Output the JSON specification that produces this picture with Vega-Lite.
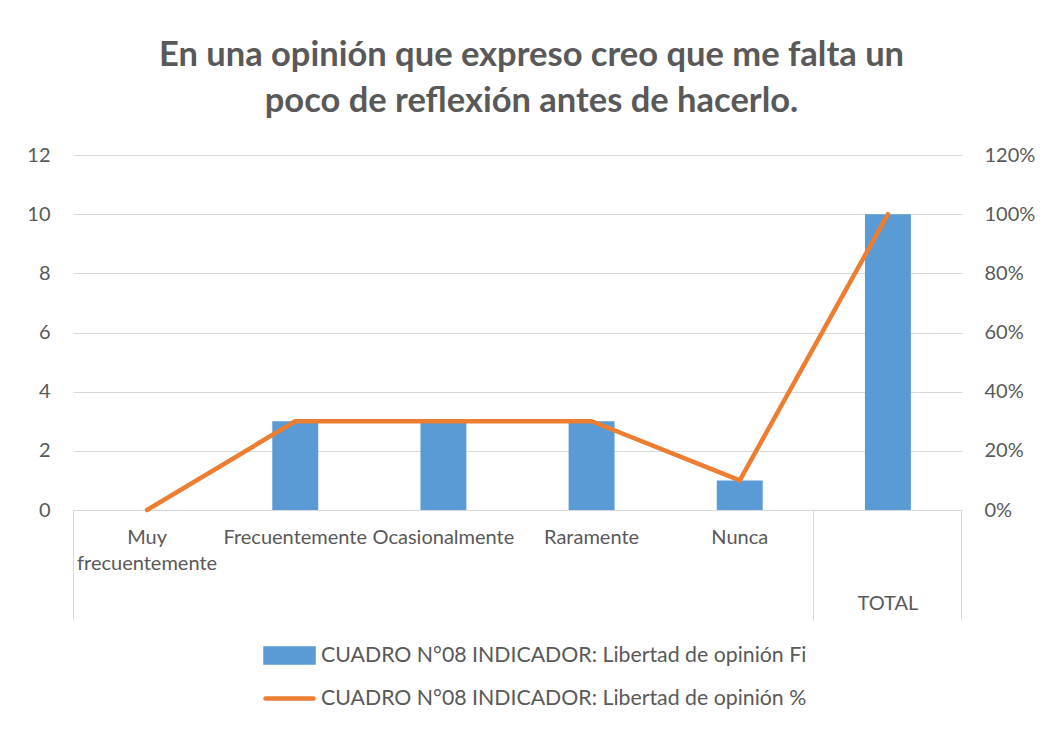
{
  "$schema": "https://vega.github.io/schema/vega-lite/v6.json",
  "width": 889,
  "height": 355,
  "autosize": {"type": "none"},
  "padding": {"left": 73, "top": 155, "right": 91, "bottom": 219},
  "background": "white",
  "config": {"font": "Lato", "view": {"stroke": null}},
  "title": {
    "text": ["En una opinión que expreso creo que me falta un", "poco de reflexión antes de hacerlo."],
    "fontSize": 34.5,
    "fontWeight": "bold",
    "color": "#595959",
    "anchor": "middle",
    "dx": 14,
    "offset": 26,
    "lineHeight": 46,
    "font": "Lato"
  },
  "data": {
    "values": [
      {"cat": "Muy frecuentemente", "fi": 0, "pct": 0},
      {"cat": "Frecuentemente", "fi": 3, "pct": 0.3},
      {"cat": "Ocasionalmente", "fi": 3, "pct": 0.3},
      {"cat": "Raramente", "fi": 3, "pct": 0.3},
      {"cat": "Nunca", "fi": 1, "pct": 0.1},
      {"cat": "TOTAL", "fi": 10, "pct": 1}
    ]
  },
  "encoding": {
    "x": {
      "field": "cat",
      "type": "nominal",
      "sort": null,
      "scale": {"paddingInner": 0, "paddingOuter": 0},
      "axis": {
        "title": null,
        "labelAngle": 0,
        "domainColor": "#D9D9D9",
        "domainWidth": 1,
        "bandPosition": 1,
        "tickExtra": true,
        "tickSize": 110,
        "tickColor": "#D9D9D9",
        "tickWidth": 1,
        "tickOpacity": {"condition": {"test": "datum.value === 'Nunca' || datum.value === 'TOTAL' || datum.extra", "value": 1}, "value": 0},
        "labelPadding": {"condition": {"test": "datum.value === 'TOTAL'", "value": -27}, "value": -93},
        "labelExpr": "datum.value === 'Muy frecuentemente' ? ['Muy', 'frecuentemente'] : datum.label",
        "labelFontSize": 20,
        "labelColor": "#595959",
        "labelLineHeight": 26,
        "labelLimit": 300,
        "labelOverlap": false,
        "labelBaseline": "top",
        "grid": false
      }
    }
  },
  "layer": [
    {
      "mark": {"type": "bar", "width": {"band": 0.31}},
      "encoding": {
        "y": {
          "field": "fi",
          "type": "quantitative",
          "scale": {"domain": [0, 12], "nice": false},
          "axis": {
            "orient": "left",
            "title": null,
            "values": [0, 2, 4, 6, 8, 10, 12],
            "grid": true,
            "gridColor": "#D9D9D9",
            "domain": false,
            "ticks": false,
            "labelPadding": 23,
            "labelFontSize": 20,
            "labelColor": "#595959"
          }
        },
        "color": {
          "datum": "CUADRO N°08 INDICADOR: Libertad de opinión Fi",
          "scale": {
            "domain": ["CUADRO N°08 INDICADOR: Libertad de opinión Fi", "CUADRO N°08 INDICADOR: Libertad de opinión %"],
            "range": ["#5B9BD5", "#ED7D31"]
          },
          "legend": {
            "orient": "none",
            "legendX": 190,
            "legendY": 474,
            "direction": "vertical",
            "title": null,
            "labelFontSize": 21.3,
            "labelColor": "#595959",
            "labelLimit": 800,
            "symbolSize": 2304,
            "rowPadding": -7,
            "labelOffset": 5,
            "encode": {
              "symbols": {
                "update": {
                  "shape": {"signal": "datum.value === 'CUADRO N°08 INDICADOR: Libertad de opinión Fi' ? 'M-1,-0.29H1V0.29H-1Z' : 'M-1,0H1'"},
                  "fill": {"signal": "datum.value === 'CUADRO N°08 INDICADOR: Libertad de opinión Fi' ? '#5B9BD5' : 'transparent'"},
                  "stroke": {"signal": "datum.value === 'CUADRO N°08 INDICADOR: Libertad de opinión Fi' ? 'transparent' : '#ED7D31'"},
                  "strokeWidth": {"value": 4.5},
                  "strokeCap": {"value": "round"},
                  "opacity": {"value": 1}
                }
              }
            }
          }
        }
      }
    },
    {
      "mark": {"type": "line", "strokeWidth": 4.5, "strokeCap": "round", "strokeJoin": "round"},
      "encoding": {
        "y": {
          "field": "pct",
          "type": "quantitative",
          "scale": {"domain": [0, 1.2], "nice": false},
          "axis": {
            "orient": "right",
            "title": null,
            "values": [0, 0.2, 0.4, 0.6, 0.8, 1.0, 1.2],
            "format": ".0%",
            "grid": false,
            "domain": false,
            "ticks": false,
            "labelPadding": 22,
            "labelFontSize": 20,
            "labelColor": "#595959"
          }
        },
        "color": {"datum": "CUADRO N°08 INDICADOR: Libertad de opinión %"}
      }
    }
  ],
  "resolve": {"scale": {"y": "independent"}}
}
